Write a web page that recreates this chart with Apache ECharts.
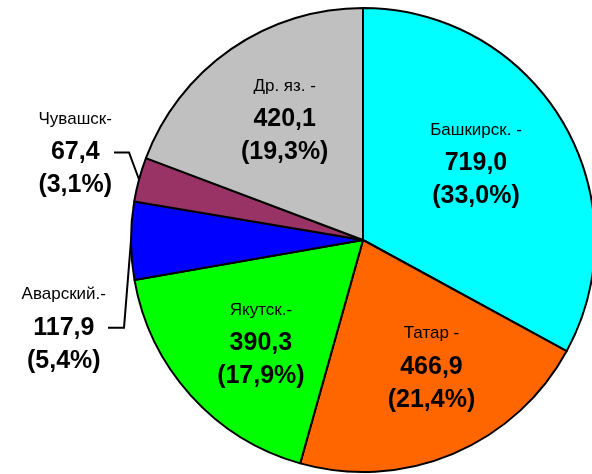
<!DOCTYPE html>
<html>
<head>
<meta charset="utf-8">
<script src="https://cdn.jsdelivr.net/npm/echarts@6/dist/echarts.min.js"></script>
<style>
  html, body { margin: 0; padding: 0; background: #fff; }
  #main { width: 592px; height: 474px; }
</style>
</head>
<body>
<div id="main"></div>
<script>
var names = ['Башкирск. -', 'Татар -', 'Якутск.-', 'Аварский.-', 'Чувашск-', 'Др. яз. -']
var values = [719.0, 466.9, 390.3, 117.9, 67.4, 420.1]
var percents = [33.0, 21.4, 17.9, 5.4, 3.1, 19.3]
var colors = ['#00ffff', '#ff6600', '#00ff00', '#0000ff', '#993366', '#c0c0c0']
// which slices get the label outside with a leader line
var outside = [false, false, false, true, true, false]

var font = '"Liberation Sans", Arial, sans-serif'
var rich = {
  n: { fontFamily: font, fontSize: 17, lineHeight: 33, color: '#000', align: 'center' },
  v: { fontFamily: font, fontSize: 25, fontWeight: 'bold', lineHeight: 33, color: '#000', align: 'center' }
}
// small nudges for the labels, [dx, dy]
var insideShift = [[-10, -4], [13, -5], [4, 7], null, null, [3, -3]]
// leader bend relative to slice edge: [bx, by, horizontal length]
var leader = [null, null, null, [-7, 87, 16], [-10, -27, 15], null]

function fmt (p) {
  var v = p.value.toFixed(1).replace('.', ',')
  var pc = percents[p.dataIndex].toFixed(1).replace('.', ',')
  return '{n|' + p.name + '}\n{v|' + v + '}\n{v|(' + pc + '%)}'
}

var data = []
var labelData = []
for (var i = 0; i < names.length; i++) {
  data.push({
    name: names[i],
    value: values[i],
    itemStyle: { color: colors[i] },
    label: { show: outside[i] },
    labelLine: { show: outside[i] }
  })
  labelData.push({
    name: names[i],
    value: values[i],
    label: { show: !outside[i] }
  })
}

var myChart = echarts.init(document.getElementById('main'))
var option = {
  animation: false,
  series: [
    {
      type: 'pie',
      center: [363, 240],
      radius: [0, 232],
      startAngle: 90,
      avoidLabelOverlap: false,
      itemStyle: { borderColor: '#000', borderWidth: 2 },
      emphasis: { disabled: true },
      label: { position: 'outside', formatter: fmt, rich: rich },
      labelLine: { length: 10, length2: 10, lineStyle: { color: '#000', width: 2 } },
      labelLayout: function (p) {
        var l = leader[p.dataIndex]
        if (!l || !p.labelLinePoints) return {}
        var e = p.labelLinePoints[0]
        var bend = [e[0] + l[0], e[1] + l[1]]
        var end = [bend[0] - l[2], bend[1]]
        return {
          x: end[0] - 2,
          y: end[1],
          align: 'right',
          verticalAlign: 'middle',
          labelLinePoints: [e, bend, end]
        }
      },
      data: data
    },
    {
      // transparent copy that only carries the inside labels
      type: 'pie',
      silent: true,
      center: [363, 240],
      radius: [0, 280],
      startAngle: 90,
      avoidLabelOverlap: false,
      itemStyle: { color: 'rgba(0,0,0,0)', borderWidth: 0 },
      emphasis: { disabled: true },
      label: { position: 'inside', formatter: fmt, rich: rich, color: '#000' },
      labelLine: { show: false },
      labelLayout: function (p) {
        var s = insideShift[p.dataIndex]
        if (!s) return {}
        return { dx: s[0], dy: s[1] }
      },
      data: labelData
    }
  ]
}
myChart.setOption(option)
</script>
</body>
</html>
